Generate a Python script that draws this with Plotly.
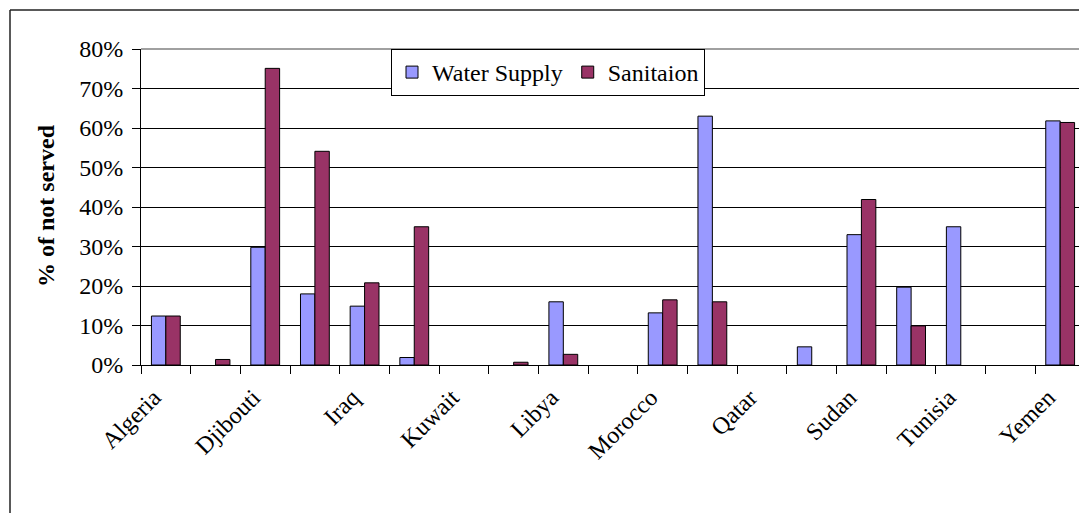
import plotly.graph_objects as go

countries = ["Algeria", "Bahrain", "Djibouti", "Egypt", "Iraq", "Jordan", "Kuwait",
             "Lebanon", "Libya", "Mauritania", "Morocco", "Oman", "Qatar",
             "Saudi Arabia", "Sudan", "Syria", "Tunisia", "UAE", "Yemen"]
tick_labels = [c if i % 2 == 0 else "" for i, c in enumerate(countries)]

# None = no bar drawn (no value)
water_supply = [0.124, None, 0.298, 0.180, 0.149, 0.019, None, None, 0.160, None,
                0.132, 0.630, None, 0.046, 0.330, 0.197, 0.350, None, 0.618]
sanitation = [0.124, 0.014, 0.751, 0.541, 0.208, 0.350, None, 0.007, 0.027, None,
              0.165, 0.160, None, None, 0.419, 0.099, None, None, 0.614]

OFF = 8  # page body margin
W, H = 1087 - OFF, 513 - OFF
L, R, T, B = 141, 1085, 49, 365  # plot area in screen pixels
FONT = "Liberation Serif"


def px(x):
    return (x - L) / (R - L)


def py(y):
    return (B - y) / (B - T)


fig = go.Figure()
fig.add_trace(go.Bar(x=countries, y=water_supply, name="Water Supply",
                     marker=dict(color="#9999FF", line=dict(color="black", width=1))))
fig.add_trace(go.Bar(x=countries, y=sanitation, name="Sanitaion",
                     marker=dict(color="#993366", line=dict(color="black", width=1))))

fig.update_layout(
    width=W, height=H,
    margin=dict(l=L - OFF, r=1087 - R, t=T - OFF, b=513 - B, pad=0),
    paper_bgcolor="white", plot_bgcolor="white",
    barmode="group", bargap=0.42, bargroupgap=0,
    font=dict(family=FONT, size=24, color="black"),
    showlegend=True,
    legend=dict(x=px(391), y=1, xanchor="left", yanchor="top", orientation="h",
                bgcolor="white", bordercolor="black", borderwidth=1,
                font=dict(family=FONT, size=24, color="black"),
                itemwidth=30, tracegroupgap=0),
    xaxis=dict(tickmode="array", tickvals=countries, ticktext=tick_labels,
               tickangle=-45, ticks="outside", ticklen=8, tickcolor="black",
               tickson="boundaries", showline=True, linecolor="black", linewidth=1,
               showgrid=False, ticklabelshift=-12, ticklabelstandoff=8,
               tickfont=dict(family=FONT, size=24)),
    yaxis=dict(range=[0, 0.8], dtick=0.1, tickformat=".0%", ticks="outside",
               ticklen=8, tickcolor="black", showline=True, linecolor="black",
               linewidth=1, showgrid=True, gridcolor="black", gridwidth=1,
               zeroline=False, ticklabelstandoff=4,
               tickfont=dict(family=FONT, size=24)),
    annotations=[dict(text="<b>% of not served</b>", textangle=-90,
                      xref="paper", yref="paper", x=px(46), y=py(206),
                      xanchor="center", yanchor="middle", showarrow=False,
                      font=dict(family=FONT, size=24))],
    shapes=[
        # outer chart frame
        dict(type="line", xref="paper", yref="paper", x0=px(10), x1=px(10),
             y0=py(10), y1=py(520), line=dict(color="#222222", width=1.5)),
        dict(type="line", xref="paper", yref="paper", x0=px(10), x1=px(1100),
             y0=py(10), y1=py(10), line=dict(color="#222222", width=1.5)),
        # plot area border (grey)
        dict(type="line", xref="paper", yref="paper", x0=0, x1=1, y0=1, y1=1,
             line=dict(color="#808080", width=1.5)),
        dict(type="line", xref="paper", yref="paper", x0=1, x1=1, y0=0, y1=1,
             line=dict(color="#808080", width=1.5)),
    ],
)

fig.write_html("out.html")
